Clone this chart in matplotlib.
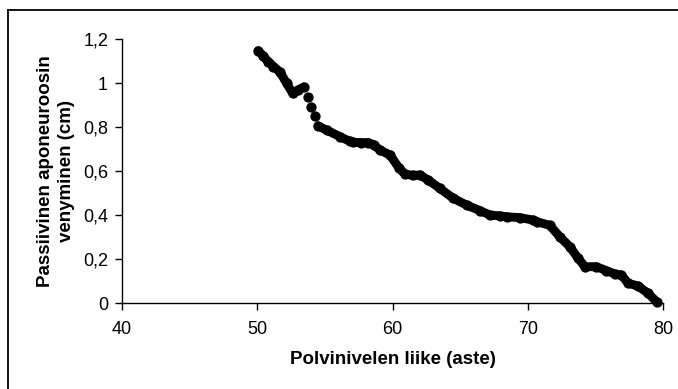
#!/usr/bin/env python3
"""Passive aponeurosis elongation vs knee joint angle (scatter, Excel-style)."""

import matplotlib
matplotlib.use("Agg")
import matplotlib.pyplot as plt
from matplotlib.lines import Line2D
import numpy as np

plt.rcParams["font.family"] = ["Liberation Sans", "DejaVu Sans"]

# knee angle (deg) and elongation (cm)
angle = [50.07, 50.4, 50.81, 51.2, 51.68, 52.17, 52.62, 53.0, 53.45,
         53.73, 53.95, 54.26, 54.49, 55.13, 56.11, 56.85, 57.1, 57.7,
         58.2, 58.6, 59.07, 59.81, 60.5, 60.92, 61.5, 62.03, 62.64,
         63.5, 64.49, 65.48, 66.46, 67.2, 67.94, 68.43, 69.42, 70.4,
         70.65, 71.63, 72.37, 73.11, 73.73, 74.22, 75.08, 75.82, 76.44,
         76.93, 77.42, 78.16, 78.9, 79.52]
elong = [1.147, 1.125, 1.097, 1.075, 1.05, 0.999, 0.953, 0.968, 0.982,
         0.938, 0.891, 0.85, 0.805, 0.786, 0.756, 0.735, 0.73, 0.729,
         0.729, 0.72, 0.695, 0.673, 0.612, 0.586, 0.58, 0.582, 0.559,
         0.521, 0.476, 0.445, 0.42, 0.40, 0.396, 0.392, 0.388, 0.377,
         0.37, 0.353, 0.301, 0.256, 0.203, 0.165, 0.165, 0.147, 0.132,
         0.127, 0.09, 0.077, 0.044, 0.006]

x_ticks = [40, 50, 60, 70, 80]
y_ticks = [0, 0.2, 0.4, 0.6, 0.8, 1.0, 1.2]
y_tick_labels = ["0", "0,2", "0,4", "0,6", "0,8", "1", "1,2"]

# samples after which the trace shows separate dots (no continuous stroke)
DOTTED = {8, 9, 10, 11}

W, H = 678, 389
fig = plt.figure(figsize=(W / 100, H / 100), dpi=100, facecolor="white")
ax = fig.add_axes([122 / W, (H - 303) / H, (663 - 122) / W, (303 - 39) / H])

x = np.array(angle)
y = np.array(elong)
start = 0
for i in range(len(x) - 1):
    if i in DOTTED:
        if i > start:
            ax.plot(x[start:i + 1], y[start:i + 1], color="black", lw=6.4,
                    solid_capstyle="round", solid_joinstyle="round", zorder=3)
        start = i + 1
ax.plot(x[start:], y[start:], color="black", lw=6.4,
        solid_capstyle="round", solid_joinstyle="round", zorder=3)
ax.plot(x, y, "o", color="black", ms=6.4, mec="black", zorder=4, clip_on=False)

ax.set_xlim(40, 80)
ax.set_ylim(0, 1.2)
ax.set_xticks(x_ticks)
ax.set_yticks(y_ticks)
ax.set_yticklabels(y_tick_labels)
ax.tick_params(direction="out", length=5, width=1, labelsize=13, pad=5,
               colors="black")
ax.tick_params(axis="x", pad=8)
for s in ["top", "right"]:
    ax.spines[s].set_visible(False)
for s in ["left", "bottom"]:
    ax.spines[s].set_linewidth(1)

ax.set_xlabel("Polvinivelen liike (aste)", fontsize=13.5, fontweight="bold",
              labelpad=9)
ax.set_ylabel("Passiivinen aponeuroosin\nvenyminen (cm)", fontsize=13.5,
              fontweight="bold", labelpad=6, linespacing=1.25)

# chart frame (only left and top edges visible in the crop)
fig.add_artist(Line2D([8 / W, 8 / W], [0, (H - 9.5) / H], color="black", lw=1.3))
fig.add_artist(Line2D([8 / W, 1], [(H - 9.5) / H, (H - 9.5) / H], color="black", lw=1.3))

fig.savefig("out.png", dpi=100, facecolor="white")
